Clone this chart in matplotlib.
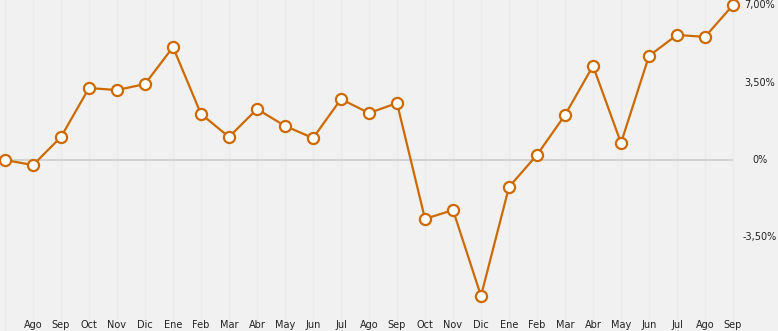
import matplotlib
matplotlib.use("Agg")
import matplotlib.pyplot as plt
import matplotlib.transforms as mtransforms
import numpy as np

# monthly values (%), first point has no label
months = ["", "Ago", "Sep", "Oct", "Nov", "Dic", "Ene", "Feb", "Mar", "Abr", "May", "Jun",
          "Jul", "Ago", "Sep", "Oct", "Nov", "Dic", "Ene", "Feb", "Mar", "Abr", "May",
          "Jun", "Jul", "Ago", "Sep"]
values = [0.0, -0.23, 1.04, 3.25, 3.16, 3.43, 5.10, 2.08, 1.04, 2.30, 1.54, 0.99,
          2.75, 2.12, 2.57, -2.66, -2.26, -6.14, -1.22, 0.23, 2.03, 4.25, 0.77,
          4.70, 5.65, 5.56, 7.00]
yticks = [7.0, 3.5, 0.0, -3.5]
ytick_labels = ["7,00%", "3,50%", "0%", "-3,50%"]

bg = "#f1f1f1"
orange = "#cc6a00"

fig = plt.figure(figsize=(7.78, 3.31), dpi=100, facecolor=bg)
ax = fig.add_axes([0, 0, 1, 1])
ax.set_facecolor(bg)
for s in ax.spines.values():
    s.set_visible(False)
ax.set_xticks([])
ax.set_yticks([])

W, H = 778, 331
px_x = 28.0  # pixels per month
px_y = 22.14  # pixels per percent
xmin = -5 / px_x
ymax = 160 / px_y
ax.set_xlim(xmin, xmin + W / px_x)
ax.set_ylim(ymax - H / px_y, ymax)

xs = np.arange(len(values))

# faint vertical lines
for x in xs:
    ax.axvline(x, color="#ebebeb", lw=1, zorder=0)

# zero line
ax.hlines(0, xmin, xs[-1], color="#d3d3d3", lw=1.5, zorder=1)

ax.plot(xs, values, color=orange, lw=1.6, marker="o", markersize=8,
        markerfacecolor="white", markeredgecolor=orange, markeredgewidth=1.6,
        zorder=3, clip_on=False)

# month labels
trans = mtransforms.blended_transform_factory(ax.transData, ax.transAxes)
for x, m in zip(xs, months):
    if m:
        ax.text(x, 6 / H, m, transform=trans, ha="center", va="center",
                fontsize=7, color="#222222")

# right side value labels
xlab = xmin + 760 / px_x
for v, lab in zip(yticks, ytick_labels):
    ax.text(xlab, v, lab, ha="center", va="center", fontsize=7, color="#222222")

fig.savefig("out.png", dpi=100, facecolor=bg)
